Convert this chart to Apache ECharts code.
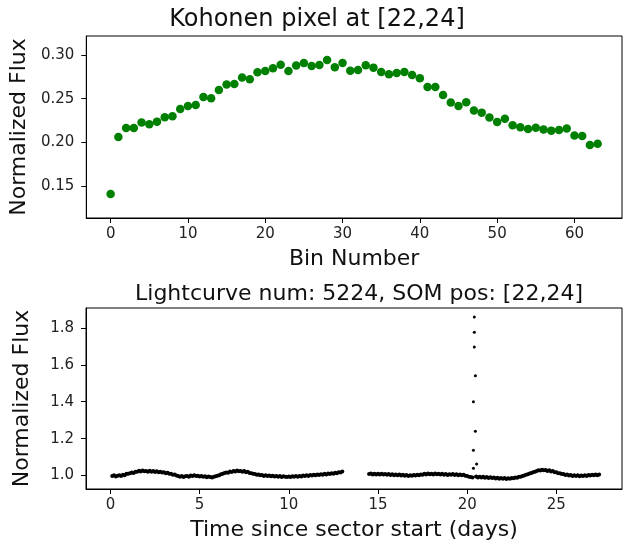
<!DOCTYPE html>
<html>
<head>
<meta charset="utf-8">
<script src="https://cdn.jsdelivr.net/npm/echarts@6/dist/echarts.min.js"></script>
<style>
  html, body { margin: 0; padding: 0; background: #fff; }
  #chart { width: 623px; height: 543px; }
</style>
</head>
<body>
<div id="chart"></div>
<script>
// Kohonen pixel prototype (64 bins)
const binFlux = [
  0.1410, 0.2062, 0.2165, 0.2165, 0.2226, 0.2207, 0.2237, 0.2287, 0.2298, 0.2382,
  0.2416, 0.2428, 0.2519, 0.2504, 0.2600, 0.2661, 0.2668, 0.2741, 0.2722, 0.2802,
  0.2817, 0.2848, 0.2889, 0.2817, 0.2878, 0.2908, 0.2874, 0.2886, 0.2943, 0.2859,
  0.2908, 0.2820, 0.2828, 0.2882, 0.2855, 0.2805, 0.2779, 0.2794, 0.2805, 0.2771,
  0.2733, 0.2634, 0.2634, 0.2542, 0.2455, 0.2416, 0.2459, 0.2363, 0.2340, 0.2283,
  0.2233, 0.2271, 0.2195, 0.2172, 0.2153, 0.2168, 0.2146, 0.2134, 0.2142, 0.2157,
  0.2077, 0.2073, 0.1970, 0.1985
]
const binTicks = [0, 10, 20, 30, 40, 50, 60]
const topFluxTicks = [0.15, 0.20, 0.25, 0.30]

const cadence = 0.1
const seg1Start = 0.1
const seg1Flux = [
  0.997, 1.001, 0.995, 0.999, 1.002, 0.997, 1.004, 1.002, 1.009, 1.010,
  1.012, 1.017, 1.014, 1.020, 1.021, 1.026, 1.022, 1.027, 1.023, 1.025,
  1.021, 1.026, 1.020, 1.024, 1.019, 1.023, 1.018, 1.021, 1.016, 1.018,
  1.012, 1.015, 1.009, 1.009, 1.004, 1.006, 1.000, 0.998, 0.993, 0.997,
  0.992, 0.996, 0.998, 0.994, 1.000, 0.997, 1.002, 0.997, 0.999, 0.995,
  0.998, 0.993, 0.996, 0.991, 0.995, 0.992, 0.990, 0.994, 0.996, 0.999,
  1.002, 1.007, 1.010, 1.014, 1.017, 1.015, 1.022, 1.019, 1.025, 1.022,
  1.027, 1.023, 1.025, 1.020, 1.024, 1.018, 1.020, 1.014, 1.013, 1.009,
  1.008, 1.004, 1.006, 1.001, 1.003, 0.998, 1.001, 0.997, 1.000, 0.996,
  0.999, 0.995, 0.998, 0.994, 0.997, 0.992, 0.996, 0.993, 0.992, 0.995,
  0.992, 0.996, 0.993, 0.997, 0.994, 0.998, 0.995, 1.000, 0.997, 1.001,
  0.998, 1.003, 1.000, 1.004, 1.001, 1.006, 1.003, 1.007, 1.004, 1.009,
  1.006, 1.011, 1.008, 1.013, 1.010, 1.015, 1.013, 1.018, 1.016, 1.022
]
const seg2Start = 14.5
const seg2Flux = [
  1.008, 1.011, 1.006, 1.010, 1.005, 1.009, 1.006, 1.010, 1.005, 1.008,
  1.004, 1.008, 1.003, 1.007, 1.002, 1.006, 1.001, 1.005, 1.000, 1.004,
  0.999, 1.003, 0.998, 1.002, 0.999, 1.003, 1.000, 1.004, 1.002, 1.006,
  1.004, 1.009, 1.006, 1.011, 1.007, 1.010, 1.006, 1.011, 1.007, 1.010,
  1.005, 1.009, 1.004, 1.008, 1.003, 1.007, 1.004, 1.008, 1.003, 1.007,
  1.002, 1.006, 1.001, 1.004, 0.999, 0.998, 0.994, 0.992, 0.989
]
const seg3Start = 20.5
const seg3Flux = [
  0.995, 0.990, 0.994, 0.989, 0.993, 0.988, 0.992, 0.987, 0.991, 0.986,
  0.989, 0.984, 0.988, 0.983, 0.987, 0.982, 0.986, 0.981, 0.985, 0.983,
  0.987, 0.985, 0.990, 0.988, 0.993, 0.994, 0.998, 1.000, 1.004, 1.007,
  1.011, 1.014, 1.018, 1.021, 1.025, 1.028, 1.027, 1.031, 1.028, 1.030,
  1.025, 1.028, 1.022, 1.024, 1.018, 1.018, 1.013, 1.012, 1.008, 1.008,
  1.003, 1.005, 1.000, 1.003, 0.998, 1.002, 0.997, 1.001, 0.996, 1.000,
  0.997, 1.002, 0.998, 1.003, 1.000, 1.004, 1.001, 1.006, 1.002, 1.005
]
// flare points near day 20.4
const spikeTime = [20.40, 20.40, 20.40, 20.46, 20.35, 20.46, 20.35, 20.53, 20.35]
const spikeFlux = [1.859, 1.777, 1.696, 1.541, 1.400, 1.240, 1.137, 1.063, 1.040]
const dayTicks = [0, 5, 10, 15, 20, 25]
const lcFluxTicks = [1.0, 1.2, 1.4, 1.6, 1.8]

const toPoints = (start, vals) => vals.map((v, i) => [+(start + i * cadence).toFixed(2), v])
const lcPoints = [].concat(
  toPoints(seg1Start, seg1Flux),
  toPoints(seg2Start, seg2Flux),
  toPoints(seg3Start, seg3Flux)
)
const spikePoints = spikeTime.map((t, i) => [t, spikeFlux[i]])

const FONT = 'DejaVu Sans'
const tickLabel = { color: '#222', fontFamily: FONT, fontSize: 15 }

const makeAxis = (min, max, ticks, digits, name, gap, margin) => ({
  type: 'value',
  min: min,
  max: max,
  name: name,
  nameLocation: 'middle',
  nameGap: gap,
  nameTextStyle: { color: '#111', fontFamily: FONT, fontSize: 22 },
  splitLine: { show: false },
  axisLine: { show: true, onZero: false, lineStyle: { color: '#000', width: 1 } },
  axisTick: { show: true, inside: false, length: 5, customValues: ticks, lineStyle: { color: '#000' } },
  axisLabel: Object.assign({ customValues: ticks, margin: margin, formatter: v => v.toFixed(digits) }, tickLabel)
})

const chart = echarts.init(document.getElementById('chart'), null, { renderer: 'canvas' })
chart.setOption({
  animation: false,
  backgroundColor: '#fff',
  title: [
    {
      text: 'Kohonen pixel at [22,24]',
      left: 312, top: 3, textAlign: 'center',
      textStyle: { color: '#111', fontFamily: FONT, fontSize: 24, fontWeight: 'normal' }
    },
    {
      text: 'Lightcurve num: 5224, SOM pos: [22,24]',
      left: 354, top: 278, textAlign: 'center',
      textStyle: { color: '#111', fontFamily: FONT, fontSize: 22, fontWeight: 'normal' }
    }
  ],
  grid: [
    { left: 86, top: 36, right: 1, bottom: 325, show: true, borderColor: '#000', borderWidth: 1 },
    { left: 86, top: 308, right: 1, bottom: 54, show: true, borderColor: '#000', borderWidth: 1 }
  ],
  xAxis: [
    Object.assign(makeAxis(-3.15, 66.15, binTicks, 0, 'Bin Number', 30, 9), { gridIndex: 0 }),
    Object.assign(makeAxis(-1.37, 28.68, dayTicks, 0, 'Time since sector start (days)', 30, 9), { gridIndex: 1 })
  ],
  yAxis: [
    Object.assign(makeAxis(0.1134, 0.3217, topFluxTicks, 2, 'Normalized Flux', 53, 12), { gridIndex: 0 }),
    Object.assign(makeAxis(0.927, 1.908, lcFluxTicks, 1, 'Normalized Flux', 53, 12), { gridIndex: 1 })
  ],
  series: [
    {
      type: 'scatter',
      xAxisIndex: 0, yAxisIndex: 0,
      data: binFlux.map((v, i) => [i, v]),
      symbolSize: 8.5,
      itemStyle: { color: '#008000', opacity: 1 }
    },
    {
      type: 'scatter',
      xAxisIndex: 1, yAxisIndex: 1,
      data: lcPoints,
      symbolSize: 4,
      itemStyle: { color: '#000', opacity: 1 }
    },
    {
      type: 'scatter',
      xAxisIndex: 1, yAxisIndex: 1,
      data: spikePoints,
      symbolSize: 3,
      itemStyle: { color: '#000', opacity: 1 }
    }
  ]
})
</script>
</body>
</html>
